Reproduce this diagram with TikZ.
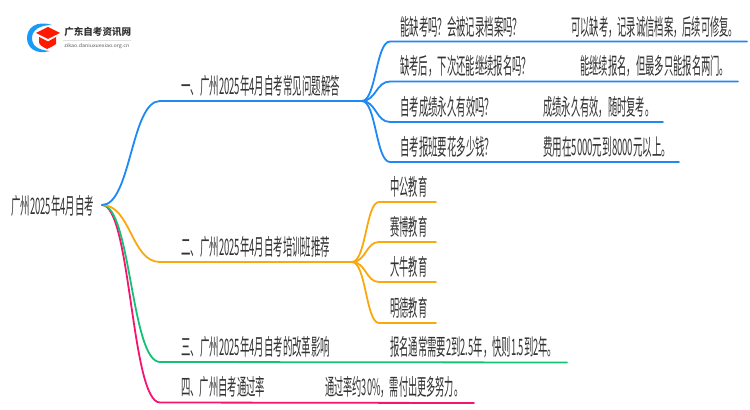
\documentclass[tikz,border=0pt]{standalone}
\usepackage{fontspec}
\usepackage{graphicx}
\newfontfamily\cjk{Noto Sans CJK SC}
\setmainfont{Noto Sans CJK SC}
\newcommand\fitw[2]{\resizebox{#1\dimexpr0.75pt\relax}{\height}{#2}}
\definecolor{bl}{HTML}{1E88F5}
\definecolor{og}{HTML}{F9A80E}
\definecolor{gr}{HTML}{14C277}
\definecolor{pk}{HTML}{F5146E}
\definecolor{tx}{HTML}{333333}
\tikzset{
 lbl/.style={anchor=west,inner sep=0pt,text=tx,font=\cjk\fontsize{17pt}{18pt}\selectfont},
 lnk/.style={line width=1.35pt,line cap=round},
}
\begin{document}
\begin{tikzpicture}[x=0.75pt,y=-0.75pt]
\useasboundingbox (0,0) rectangle (750,410);
\fill[white] (0,0) rectangle (750,410);
% logo
\fill[bl!85!cyan] (52,25) .. controls (36,20) and (27,28) .. (27,38) .. controls (27,48) and (36,55) .. (50,51) .. controls (38,50) and (32,46) .. (32,38) .. controls (32,30) and (40,25) .. (52,25) -- cycle;
\fill[red!80!orange] (48,27) -- (60,33) -- (48,39) -- (36,33) -- cycle;
\fill[red!80!orange] (39,37) -- (48,41.5) -- (56,37) -- (56,44) .. controls (52,47) and (47,49) .. (47,49) .. controls (43,47) and (39,45) .. (39,42) -- cycle;
\node[inner sep=0pt,anchor=west,text=tx,font=\cjk\bfseries\fontsize{7.2pt}{8pt}\selectfont] (logot) at (64,32) {\fitw{67}{广东自考资讯网}};
\coordinate (rl) at (63,40.5);
\coordinate (rr) at (131,40.5);
\draw[black!12,line width=.5pt] (rl) -- (rr);
\node[inner sep=0pt,anchor=west,text=black!65,font=\cjk\fontsize{3.6pt}{4pt}\selectfont] (logou) at (64,46.5) {\fitw{65}{zikao.daniuxuexiao.org.cn}};
% texts
\node[lbl] (root) at (11,206) {\fitw{83}{广州2025年4月自考}};
\node[lbl] (a) at (181,86) {\fitw{159}{一、广州2025年4月自考常见问题解答}};
\node[lbl] (b) at (181,247) {\fitw{149}{二、广州2025年4月自考培训班推荐}};
\node[lbl] (c) at (181,347) {\fitw{149}{三、广州2025年4月自考的改革影响}};
\node[lbl] (d) at (181,387) {\fitw{84}{四、广州自考通过率}};
\node[lbl] (a1) at (400,27) {\fitw{122}{能缺考吗？会被记录档案吗？}};
\node[lbl] (a1x) at (571,27) {\fitw{167}{可以缺考，记录诚信档案，后续可修复。}};
\node[lbl] (a2) at (400,66) {\fitw{131}{缺考后，下次还能继续报名吗？}};
\node[lbl] (a2x) at (580,66) {\fitw{149}{能继续报名，但最多只能报名两门。}};
\node[lbl] (a3) at (400,107) {\fitw{94}{自考成绩永久有效吗？}};
\node[lbl] (a3x) at (543,107) {\fitw{111}{成绩永久有效，随时复考。}};
\node[lbl] (a4) at (400,147) {\fitw{94}{自考报班要花多少钱？}};
\node[lbl] (a4x) at (543,147) {\fitw{128}{费用在5000元到8000元以上。}};
\node[lbl] (b1) at (390,187) {\fitw{37}{中公教育}};
\node[lbl] (b2) at (390,227) {\fitw{37}{赛博教育}};
\node[lbl] (b3) at (390,267) {\fitw{37}{大牛教育}};
\node[lbl] (b4) at (390,308) {\fitw{37}{明德教育}};
\node[lbl] (c1) at (390,347) {\fitw{167}{报名通常需要2到2.5年，快则1.5到2年。}};
\node[lbl] (d1) at (325,387) {\fitw{138}{通过率约30\%，需付出更多努力。}};
% coordinates
\coordinate (o) at (102,205);
\coordinate (aj) at (362,101);
\coordinate (bj) at (352,262);
\coordinate (a1e) at (747,41.5);
\coordinate (a2e) at (738,81.5);
\coordinate (a3e) at (663,122);
\coordinate (a4e) at (679,162);
\coordinate (ce) at (567,362.5);
\coordinate (de) at (474,403);
% main branches
\draw[lnk,pk] (o) .. controls (131,205) and (131,402.5) .. (160,402.5) -- (de);
\draw[lnk,gr] (o) .. controls (131,205) and (131,362) .. (160,362) -- (ce);
\draw[lnk,og] (o) .. controls (131,205) and (131,262) .. (160,262) -- (bj);
\draw[lnk,bl] (o) .. controls (131,205) and (131,101) .. (160,101) -- (aj);
% sub branches
\foreach \e/\y in {a1e/41.5,a2e/81.5,a3e/122,a4e/162}
  \draw[lnk,bl] (aj) .. controls (376,101) and (376,\y) .. (390,\y) -- (\e);
\foreach \y in {202,242,282,323}
  \draw[lnk,og] (bj) .. controls (366,262) and (366,\y) .. (379,\y) -- (436,\y);
\end{tikzpicture}
\end{document}
